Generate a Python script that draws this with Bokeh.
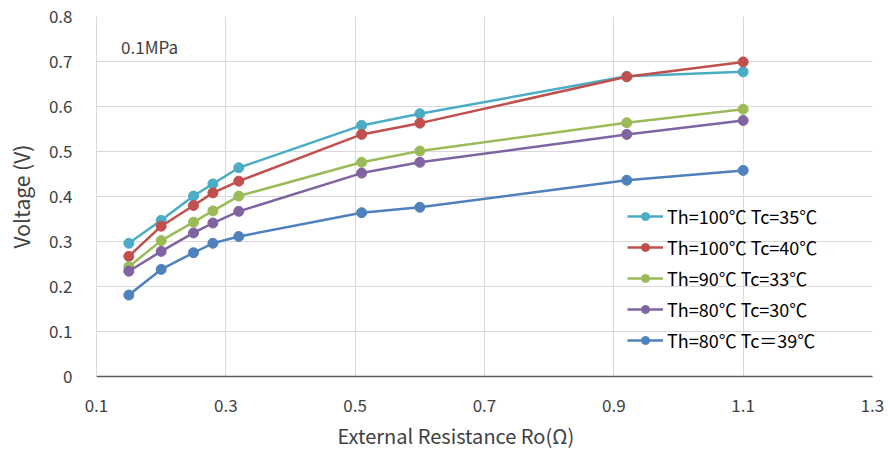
from bokeh.plotting import figure
from bokeh.models import FixedTicker, NumeralTickFormatter, Legend, LegendItem, Label, Range1d, Title
from bokeh.embed import file_html
from bokeh.resources import INLINE

resistance = [0.15, 0.20, 0.25, 0.28, 0.32, 0.51, 0.60, 0.92, 1.10]
v_100_35 = [0.296, 0.347, 0.401, 0.428, 0.464, 0.558, 0.584, 0.667, 0.677]
v_100_40 = [0.267, 0.334, 0.380, 0.408, 0.434, 0.538, 0.563, 0.666, 0.699]
v_90_33 = [0.244, 0.302, 0.343, 0.368, 0.401, 0.476, 0.501, 0.564, 0.594]
v_80_30 = [0.234, 0.278, 0.319, 0.341, 0.367, 0.452, 0.476, 0.538, 0.569]
v_80_39 = [0.181, 0.238, 0.275, 0.296, 0.311, 0.364, 0.376, 0.436, 0.458]

series_labels = ["Th=100℃ Tc=35℃", "Th=100℃ Tc=40℃", "Th=90℃ Tc=33℃",
                 "Th=80℃ Tc=30℃", "Th=80℃ Tc＝39℃"]
series_values = [v_100_35, v_100_40, v_90_33, v_80_30, v_80_39]
colors = ["#4BACC6", "#C0504D", "#9BBB59", "#8064A2", "#4F81BD"]

x_ticks = [0.1, 0.3, 0.5, 0.7, 0.9, 1.1, 1.3]
y_ticks = [0, 0.1, 0.2, 0.3, 0.4, 0.5, 0.6, 0.7, 0.8]

FONT = "Noto Sans CJK SC"
TXT = "#404040"

p = figure(width=890, height=456, output_backend="svg", toolbar_location=None,
           x_range=Range1d(0.1, 1.3), y_range=Range1d(0, 0.8),
           min_border_left=96, min_border_right=18, min_border_top=16, min_border_bottom=80)
p.outline_line_color = None
p.background_fill_color = "white"
p.border_fill_color = "white"

p.xaxis.ticker = FixedTicker(ticks=x_ticks)
p.yaxis.ticker = FixedTicker(ticks=y_ticks)
p.yaxis.formatter = NumeralTickFormatter(format="0.[0]")
p.xaxis.formatter = NumeralTickFormatter(format="0.0")

for ax in (p.xaxis[0], p.yaxis[0]):
    ax.major_tick_line_color = None
    ax.minor_tick_line_color = None
    ax.major_label_text_font = FONT
    ax.major_label_text_font_size = "17px"
    ax.major_label_text_color = TXT
    ax.axis_label_text_font = FONT
    ax.axis_label_text_font_size = "21px"
    ax.axis_label_text_font_style = "normal"
    ax.axis_label_text_color = TXT

p.xaxis.axis_line_color = "#5a5a5a"
p.xaxis.axis_line_width = 1.5
p.yaxis.axis_line_color = "#d9d9d9"
p.xaxis.major_label_standoff = 16
p.yaxis.major_label_standoff = 18
p.yaxis.axis_label = "Voltage (V)"
p.yaxis.axis_label_standoff = 10

p.xgrid.grid_line_color = "#d9d9d9"
p.ygrid.grid_line_color = "#d9d9d9"

items = []
for lab, vals, col in zip(series_labels, series_values, colors):
    r1 = p.line(resistance, vals, line_color=col, line_width=2.5)
    r2 = p.scatter(resistance, vals, size=10, fill_color=col, line_color=col)
    items.append(LegendItem(label=lab, renderers=[r1, r2]))

legend = Legend(items=items, location=(531, 23), orientation="vertical",
                background_fill_alpha=0, border_line_color=None,
                label_text_font=FONT, label_text_font_size="18px", label_text_color="#000000",
                glyph_width=36, glyph_height=20, label_height=20, spacing=5,
                padding=0, margin=0, label_standoff=4)
p.add_layout(legend, "center")

p.add_layout(Label(x=0.138, y=0.733, text="0.1MPa", text_font=FONT,
                   text_font_size="17px", text_color=TXT, text_baseline="middle"))

xtitle = Title(text="External Resistance Ro(Ω)", align="left", offset=241,
               text_font=FONT, text_font_size="20px", text_font_style="normal",
               text_color=TXT, standoff=8)
p.add_layout(xtitle, "below")

open("out.html", "w").write(file_html(p, INLINE))
